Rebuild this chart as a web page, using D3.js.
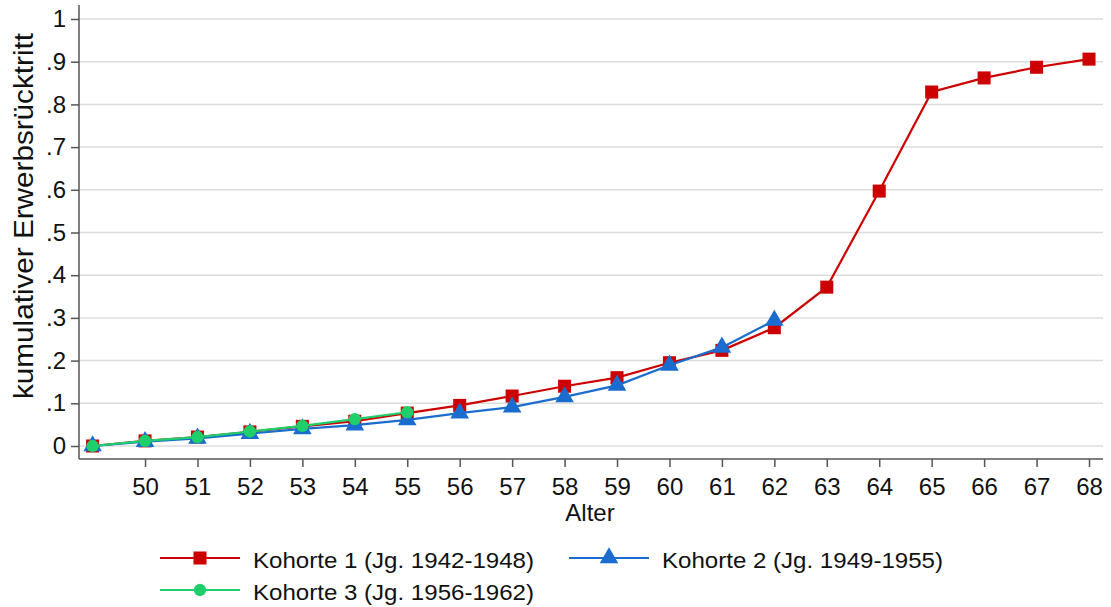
<!DOCTYPE html>
<html><head><meta charset="utf-8">
<script src="https://cdn.jsdelivr.net/npm/d3@7"></script>
<style>body{margin:0;background:#fff}svg{display:block;font-family:"Liberation Sans",Arial,sans-serif}</style>
</head><body><svg id="c" width="1111" height="607"></svg>
<script>
const ages = [49,50,51,52,53,54,55,56,57,58,59,60,61,62,63,64,65,66,67,68];
const xTicks = [50,51,52,53,54,55,56,57,58,59,60,61,62,63,64,65,66,67,68];
const yTicks = [0,0.1,0.2,0.3,0.4,0.5,0.6,0.7,0.8,0.9,1];
const yTickLabels = ["0",".1",".2",".3",".4",".5",".6",".7",".8",".9","1"];
const kohorte1 = [0,0.012,0.021,0.033,0.046,0.058,0.077,0.095,0.117,0.140,0.160,0.195,0.224,0.277,0.372,0.597,0.829,0.862,0.887,0.906];
const kohorte2 = [0,0.010,0.018,0.029,0.040,0.049,0.061,0.077,0.091,0.115,0.142,0.189,0.231,0.294];
const kohorte3 = [0,0.012,0.021,0.034,0.047,0.063,0.079];
const seriesNames = ["Kohorte 1 (Jg. 1942-1948)","Kohorte 2 (Jg. 1949-1955)","Kohorte 3 (Jg. 1956-1962)"];
const colors = ["#cc0000","#1a6ccf","#1fcf6c"];
const markers = [d3.symbolSquare, d3.symbolTriangle, d3.symbolCircle];
const markerSizes = [170, 150, 120];

const svg = d3.select("#c");
const x = d3.scaleLinear().domain([49,68]).range([92.6,1089]);
const y = d3.scaleLinear().domain([0,1]).range([446,19]);
const left = 79, bottom = 459, right = 1103;
const FONT = "Liberation Sans, Arial, sans-serif";

// grid
svg.append("g").selectAll("line").data(yTicks).join("line")
  .attr("x1",left).attr("x2",right).attr("y1",d=>y(d)).attr("y2",d=>y(d))
  .attr("stroke","#dcdcdc").attr("stroke-width",1.5);

// y axis
const ya = svg.append("g").attr("transform",`translate(${left},0)`)
  .call(d3.axisLeft(y).tickValues(yTicks).tickFormat((d,i)=>yTickLabels[i]).tickSize(8).tickPadding(5));
ya.select(".domain").attr("d",`M0,5V${bottom}`).attr("stroke","#555").attr("stroke-width",1.5);
ya.selectAll(".tick line").attr("stroke","#555").attr("stroke-width",1.5);
ya.selectAll("text").attr("font-size",24).attr("fill","#111").attr("font-family",FONT);

// x axis
const xa = svg.append("g").attr("transform",`translate(0,${bottom})`)
  .call(d3.axisBottom(x).tickValues(xTicks).tickFormat(d3.format("d")).tickSize(8).tickPadding(11));
xa.select(".domain").attr("d",`M${left},0H${right}`).attr("stroke","#555").attr("stroke-width",1.5);
xa.selectAll(".tick line").attr("stroke","#555").attr("stroke-width",1.5);
xa.selectAll("text").attr("font-size",24).attr("fill","#111").attr("font-family",FONT);

// axis titles
svg.append("text").attr("x",590).attr("y",521).attr("text-anchor","middle")
  .attr("font-size",24).attr("fill","#111").text("Alter");
svg.append("text").attr("transform","translate(33,216) rotate(-90)").attr("text-anchor","middle")
  .attr("font-size",27).attr("fill","#111")
  .attr("textLength",366).attr("lengthAdjust","spacingAndGlyphs")
  .text("kumulativer Erwerbsrücktritt");

const all = [kohorte1,kohorte2,kohorte3];
const line = d3.line().x((d,i)=>x(ages[i])).y(d=>y(d));
[0,1,2].forEach(s=>{
  const data = all[s];
  const g = svg.append("g");
  g.append("path").datum(data).attr("d",line).attr("fill","none")
    .attr("stroke",colors[s]).attr("stroke-width",2.2);
  g.selectAll("path.m").data(data).join("path").attr("class","m")
    .attr("d",d3.symbol().type(markers[s]).size(markerSizes[s]))
    .attr("transform",(d,i)=>`translate(${x(ages[i])},${y(d)})`)
    .attr("fill",colors[s]);
});

// legend
const leg = [{s:0,x:160,y:558},{s:1,x:569,y:558},{s:2,x:160,y:590}];
leg.forEach(L=>{
  const g = svg.append("g");
  g.append("line").attr("x1",L.x).attr("x2",L.x+80).attr("y1",L.y).attr("y2",L.y)
    .attr("stroke",colors[L.s]).attr("stroke-width",2.2);
  g.append("path").attr("d",d3.symbol().type(markers[L.s]).size(markerSizes[L.s]))
    .attr("transform",`translate(${L.x+40},${L.y})`).attr("fill",colors[L.s]);
  g.append("text").attr("x",L.x+93).attr("y",L.y+10).attr("font-size",22).attr("fill","#111")
    .attr("textLength",281).attr("lengthAdjust","spacingAndGlyphs")
    .text(seriesNames[L.s]);
});
</script></body></html>
